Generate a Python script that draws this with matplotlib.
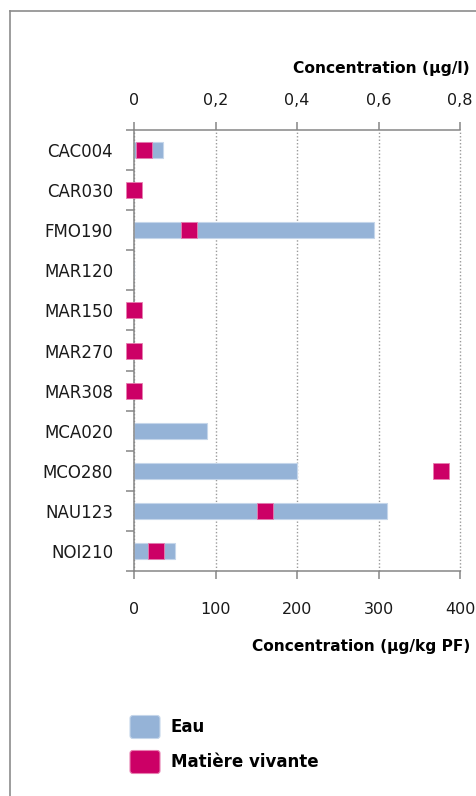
import numpy as np
import matplotlib
matplotlib.use("Agg")
import matplotlib.pyplot as plt
from matplotlib.patches import FancyBboxPatch
from matplotlib.lines import Line2D
from matplotlib.ticker import FixedLocator, FuncFormatter

# Sampling stations
stations = ["CAC004", "CAR030", "FMO190", "MAR120", "MAR150", "MAR270",
            "MAR308", "MCA020", "MCO280", "NAU123", "NOI210"]
# Concentration in water (µg/l)
eau = [0.07, 0.0, 0.59, 0.0, 0.0, 0.0, 0.0, 0.18, 0.40, 0.62, 0.10]
# Concentration in living matter (µg/kg PF); NaN = not measured
matiere_vivante = [12, 0, 67, np.nan, 0, 0, 0, np.nan, 377, 161, 27]

top_ticks = [0, 0.2, 0.4, 0.6, 0.8]
bottom_ticks = [0, 100, 200, 300, 400]
series_names = ["Eau", "Matière vivante"]

BLUE = "#95b3d7"
MAGENTA = "#cc0066"
AXIS_GREY = "#868686"
TEXT = "#1a1a1a"

W, H = 476, 796
fig = plt.figure(figsize=(W / 100, H / 100), dpi=100)
fig.patch.set_facecolor("white")


def fx(px):
    return px / W


def fy(px):
    return 1 - px / H


# outer chart frame (continues past the right and bottom edges)
fig.add_artist(Line2D([fx(10), fx(10)], [0, fy(11)], transform=fig.transFigure,
                      color="#8c8c8c", lw=1.2))
fig.add_artist(Line2D([fx(10), 1], [fy(11), fy(11)], transform=fig.transFigure,
                      color="#8c8c8c", lw=1.2))

ax = fig.add_axes([fx(134), fy(571), fx(460) - fx(134), fy(130) - fy(571)])
ax2 = ax.twiny()

y = np.arange(len(stations))

# water: horizontal bars on the µg/l scale (top axis)
ax.barh(y, eau, height=0.4, color=BLUE, edgecolor="#c5d6ea", linewidth=0.8, zorder=2)
ax.set_xlim(0, 0.8)
ax.xaxis.tick_top()
ax.xaxis.set_label_position("top")
ax.set_xticks(top_ticks)
ax.xaxis.set_major_formatter(FuncFormatter(lambda v, p: "0" if v == 0 else f"{v:.1f}".replace(".", ",")))
ax.tick_params(axis="x", which="major", direction="out", length=6, width=1.1,
               color=AXIS_GREY, pad=10, labelsize=11.5, labelcolor=TEXT)
ax.grid(axis="x", color="#9a9a9a", linestyle=(0, (1, 1.5)), linewidth=1.0)
for gl in ax.get_xgridlines():
    gl.set_clip_on(False)
ax.set_axisbelow(True)

# station axis
ax.set_ylim(len(stations) - 0.5, -0.5)
ax.set_yticks(y)
ax.set_yticklabels(stations)
ax.yaxis.set_minor_locator(FixedLocator(np.arange(-0.5, len(stations), 1.0)))
ax.tick_params(axis="y", which="major", length=0, pad=15, labelsize=12, labelcolor=TEXT)
ax.tick_params(axis="y", which="minor", direction="out", length=5.5, width=1.1, color=AXIS_GREY)

for s in ["right", "bottom"]:
    ax.spines[s].set_visible(False)
for s in ["left", "top"]:
    ax.spines[s].set_color(AXIS_GREY)
    ax.spines[s].set_linewidth(1.1)

# living matter: square markers on the µg/kg PF scale (bottom axis)
ax2.set_xlim(0, 400)
ax2.xaxis.tick_bottom()
ax2.xaxis.set_label_position("bottom")
ax2.plot(matiere_vivante, y, linestyle="none", marker="s", markersize=11,
         markerfacecolor=MAGENTA, markeredgecolor="#e77fb0", markeredgewidth=0.6,
         clip_on=False, zorder=5)
ax2.set_xticks(bottom_ticks)
ax2.tick_params(axis="x", direction="out", length=6, width=1.1, color=AXIS_GREY,
                pad=16, labelsize=11.5, labelcolor=TEXT)
for s in ["left", "right", "top"]:
    ax2.spines[s].set_visible(False)
ax2.spines["bottom"].set_visible(True)
ax2.spines["bottom"].set_color(AXIS_GREY)
ax2.spines["bottom"].set_linewidth(1.1)

# axis titles
fig.text(fx(293), fy(68), "Concentration (µg/l)", ha="left", va="center",
         fontsize=11.2, fontweight="bold", color="black")
fig.text(fx(252), fy(647), "Concentration (µg/kg PF)", ha="left", va="center",
         fontsize=11.1, fontweight="bold", color="black")

# legend: rounded colour swatches with bold labels
for name, face, edge, yc in zip(series_names, [BLUE, MAGENTA], ["#c5d6ea", "#e77fb0"], [727, 762]):
    sw = FancyBboxPatch((fx(130), fy(yc + 11.5)), fx(30), 23 / H,
                        boxstyle="round,pad=0,rounding_size=0.006",
                        transform=fig.transFigure, facecolor=face, edgecolor=edge,
                        linewidth=0.8, mutation_aspect=W / H)
    fig.add_artist(sw)
    fig.text(fx(171), fy(yc), name, ha="left", va="center", fontsize=12,
             fontweight="bold", color="black")

fig.savefig("out.png", dpi=100, facecolor="white")
